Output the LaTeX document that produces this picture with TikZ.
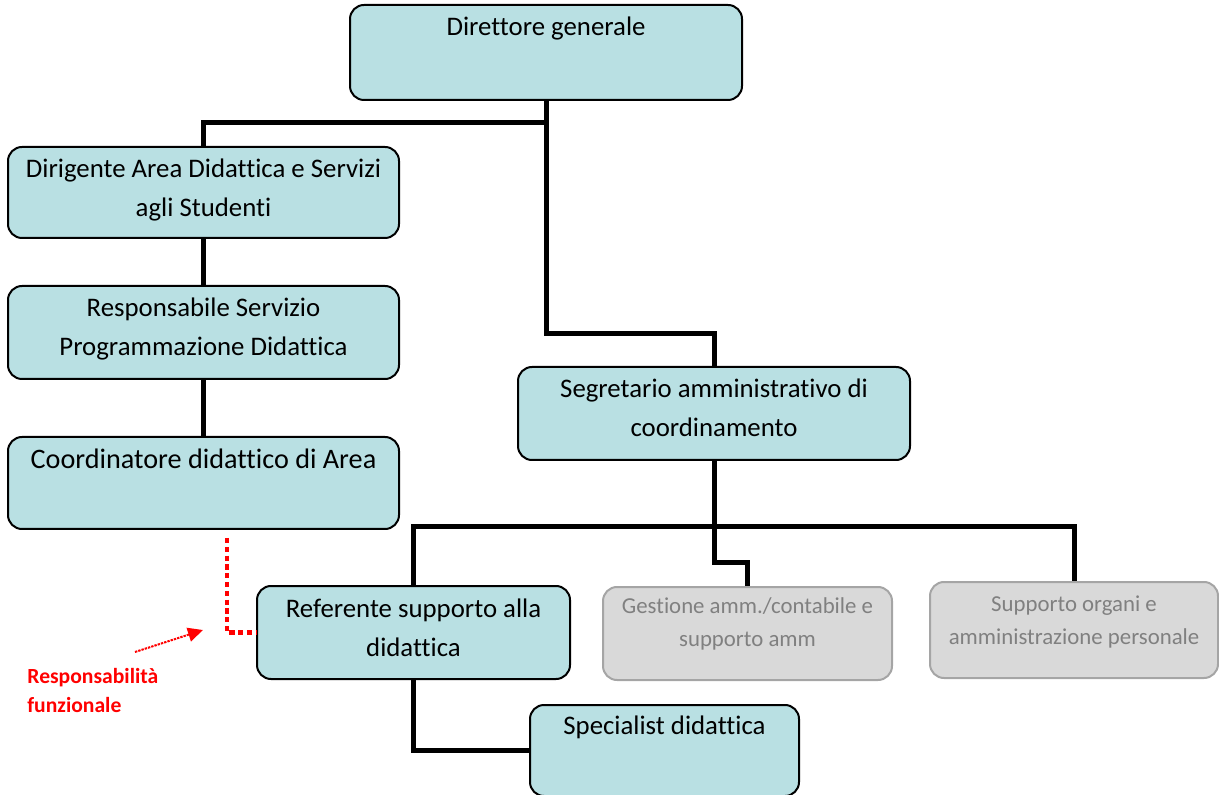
\documentclass[tikz,border=0pt]{standalone}
\usepackage{fontspec}
\setmainfont[Ligatures=NoCommon]{Carlito}
\usetikzlibrary{calc,arrows.meta,positioning}
\definecolor{boxfill}{RGB}{185,224,227}
\definecolor{gfill}{RGB}{217,217,217}
\definecolor{gline}{RGB}{165,165,165}
\definecolor{gtext}{RGB}{128,128,128}

\begin{document}
\begin{tikzpicture}[x=0.5pt,y=-0.5pt,
    box/.style={draw=black,line width=1pt,fill=boxfill,rounded corners=7pt,inner sep=0pt},
    gbox/.style={draw=gline,line width=1pt,fill=gfill,rounded corners=7pt,inner sep=0pt},
    txt/.style={anchor=base,align=center,inner sep=0pt,font=\fontsize{13.4}{19.5}\selectfont},
    gtxt/.style={txt,text=gtext,font=\fontsize{11.4}{16.5}\selectfont},
    conn/.style={line width=2.5pt},
    funz/.style={red,line width=2.4pt,dash pattern=on 2.6pt off 1.8pt}]
        \useasboundingbox (0,0) rectangle (1219,795);
        \node[box,minimum width=196pt,minimum height=47.5pt] (dg) at (546,52.5) {};
        \node[box,minimum width=195.5pt,minimum height=45.5pt] (dir) at (203.5,192.5) {};
        \node[box,minimum width=195.5pt,minimum height=46.5pt] (resp) at (203.5,332.5) {};
        \node[box,minimum width=195.5pt,minimum height=46pt] (coord) at (203.5,483) {};
        \node[box,minimum width=196pt,minimum height=46.5pt] (seg) at (714,413.5) {};
        \node[box,minimum width=156.5pt,minimum height=46.5pt] (ref) at (413.5,632.5) {};
        \node[gbox,minimum width=144.5pt,minimum height=46.5pt] (gest) at (747.5,633.5) {};
        \node[gbox,minimum width=144pt,minimum height=48pt] (sup) at (1074,630) {};
        \node[box,minimum width=134.5pt,minimum height=45.5pt] (spec) at (664.5,750.5) {};
        \node[txt] (tdg) at ([yshift=-15.75pt]dg.north) {Direttore generale};
        \node[txt] (tdir) at ([yshift=-35.5pt]dir.north) {Dirigente Area Didattica e Servizi\\agli Studenti};
        \node[txt] (tresp) at ([yshift=-35.5pt]resp.north) {Responsabile Servizio\\Programmazione Didattica};
        \node[txt,font=\fontsize{14.1}{19}\selectfont] (tcoord) at ([yshift=-16.5pt]coord.north) {Coordinatore didattico di Area};
        \node[txt] (tseg) at ([yshift=-35.5pt]seg.north) {Segretario amministrativo di\\coordinamento};
        \node[txt] (tref) at ([yshift=-35.5pt]ref.north) {Referente supporto alla\\didattica};
        \node[gtxt] (tgest) at ([yshift=-30pt]gest.north) {Gestione amm./contabile e\\supporto amm};
        \node[gtxt] (tsup) at ([yshift=-31.5pt]sup.north) {Supporto organi e\\amministrazione personale};
        \node[txt] (tspec) at ([yshift=-15pt]spec.north) {Specialist didattica};
        \draw[conn] (dg.south) -- ++(0,22) -| (dir.north);
        \draw[conn] (dg.south) -- ++(0,233) -| (seg.north);
        \draw[conn] (dir.south) -- (resp.north);
        \draw[conn] (resp.south) -- (coord.north);
        \coordinate (bus) at ($(seg.south)+(0,66)$);
        \draw[conn] (ref.north) |- (bus -| sup.north) -- (sup.north);
        \draw[conn] (seg.south) -- ++(0,102) -| (gest.north);
        \draw[conn] (ref.south) |- (spec.west);
        \draw[funz] ([xshift=11.75pt,yshift=-4pt]coord.south) |- (ref.west);
        \coordinate (fa) at (135,652);
        \coordinate (fb) at (203,630);
        \draw[red,line width=1pt,dash pattern=on 1.2pt off 0.5pt,-{Triangle[length=7.5pt,width=7pt]}] (fa) -- (fb);
        \node[anchor=base west,align=left,inner sep=0pt,text=red,font=\bfseries\fontsize{10.8}{14.5}\selectfont] (rf) at (27,712) {Responsabilità\\funzionale};
      \end{tikzpicture}
\end{document}
